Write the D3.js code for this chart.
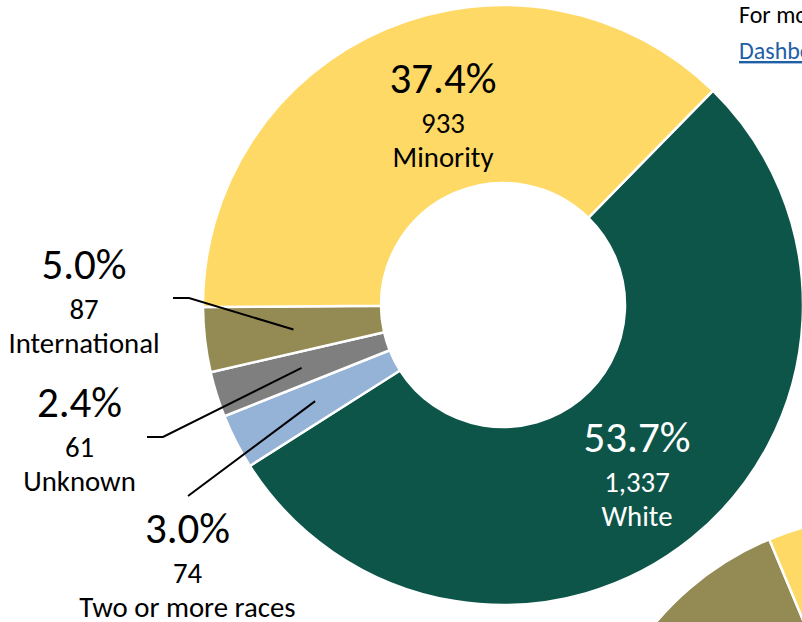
<!DOCTYPE html>
<html><head><meta charset="utf-8">
<script src="https://cdn.jsdelivr.net/npm/d3@7"></script>
<style>
html,body{margin:0;padding:0;background:#fff;overflow:hidden}
svg{display:block}
text{font-family:Calibri,Carlito,Lato,sans-serif}
</style></head><body>
<svg id="chart" width="802" height="622"></svg>
<script>
// ---- data (clockwise order, starting with the White slice) ----
const categories    = ["White", "Two or more races", "Unknown", "International", "Minority"];
const counts        = [1337, 74, 61, 87, 933];
const percentLabels = ["53.7%", "3.0%", "2.4%", "5.0%", "37.4%"];

// neighbouring chart, only a clipped corner of it is visible (estimated shares)
const nextCategories = ["White", "Two or more races", "Unknown", "International", "Minority"];
const nextShares     = [50, 2, 3, 10, 35];

// ---- styles / layout ----
const colorScale = d3.scaleOrdinal()
  .domain(categories)
  .range(["#0E5549", "#95B3D7", "#7F7F7F", "#948A54", "#FFD966"]);

const deg = Math.PI / 180;
const center = [503, 305], rInner = 122, rOuter = 300;
const startDeg = 44.4;

// label anchor (center x, baseline of the percentage line), leader start points
const labelLayout = {
  "White":             {x: 637,   y: 452, fill: "#ffffff"},
  "Minority":          {x: 443,   y: 93,  fill: "#000000"},
  "International":     {x: 84,    y: 279, fill: "#000000", leader: [[173, 298], [189, 298]]},
  "Unknown":           {x: 79.5,  y: 417, fill: "#000000", leader: [[147, 437], [163, 437]]},
  "Two or more races": {x: 187.5, y: 543, fill: "#000000", leader: [[188, 496]]}
};
const bigSize = 43, smallSize = 28.8;

const svg = d3.select("#chart");

// ---- neighbouring (clipped) donut ----
const nextTable = nextCategories.map((c, i) => ({category: c, value: nextShares[i]}));
const nextMinorityStart = 337.3;
const nextBefore = d3.sum(nextShares.slice(0, 4)) / d3.sum(nextShares) * 360;
const nextPie = d3.pie().value(d => d.value).sort(null)
  .startAngle((nextMinorityStart - nextBefore) * deg)
  .endAngle((nextMinorityStart - nextBefore) * deg + 2 * Math.PI);
const nextArc = d3.arc().innerRadius(rInner).outerRadius(rOuter);
svg.append("g").attr("transform", "translate(885,816)")
  .selectAll("path").data(nextPie(nextTable)).join("path")
  .attr("d", nextArc)
  .attr("fill", d => colorScale(d.data.category))
  .attr("stroke", "#fff").attr("stroke-width", 2.5);

// ---- main donut ----
const table = categories.map((c, i) => ({category: c, count: counts[i], pct: percentLabels[i]}));
const pie = d3.pie().value(d => d.count).sort(null)
  .startAngle(startDeg * deg).endAngle(startDeg * deg + 2 * Math.PI);
const arc = d3.arc().innerRadius(rInner).outerRadius(rOuter);
const arcs = pie(table);

const g = svg.append("g").attr("transform", `translate(${center[0]},${center[1]})`);
g.selectAll("path").data(arcs).join("path")
  .attr("d", arc)
  .attr("fill", d => colorScale(d.data.category))
  .attr("stroke", "#fff").attr("stroke-width", 2.5);

// leader lines: from label to slice centroid
const line = d3.line();
arcs.forEach(d => {
  const L = labelLayout[d.data.category];
  if (!L.leader) return;
  const c = arc.centroid(d);
  const pts = L.leader.concat([[c[0] + center[0], c[1] + center[1]]]);
  svg.append("path").attr("d", line(pts))
    .attr("fill", "none").attr("stroke", "#000").attr("stroke-width", 2);
});

// labels
const fmt = d3.format(",");
arcs.forEach(d => {
  const L = labelLayout[d.data.category];
  const t = svg.append("g").attr("fill", L.fill).attr("text-anchor", "middle");
  t.append("text").attr("x", L.x).attr("y", L.y).attr("font-size", bigSize).text(d.data.pct);
  t.append("text").attr("x", L.x).attr("y", L.y + 39.5).attr("font-size", smallSize).text(fmt(d.data.count));
  t.append("text").attr("x", L.x).attr("y", L.y + 74).attr("font-size", smallSize).text(d.data.category);
});

// top-right note (clipped at the page edge, as in the reference)
svg.append("text").attr("x", 739).attr("y", 23).attr("font-size", 24).attr("fill", "#000")
  .text("For more information, see the");
svg.append("text").attr("x", 739).attr("y", 59).attr("font-size", 24).attr("fill", "#1F5FA8")
  .attr("text-decoration", "underline").text("Dashboard");
</script>
</body></html>
